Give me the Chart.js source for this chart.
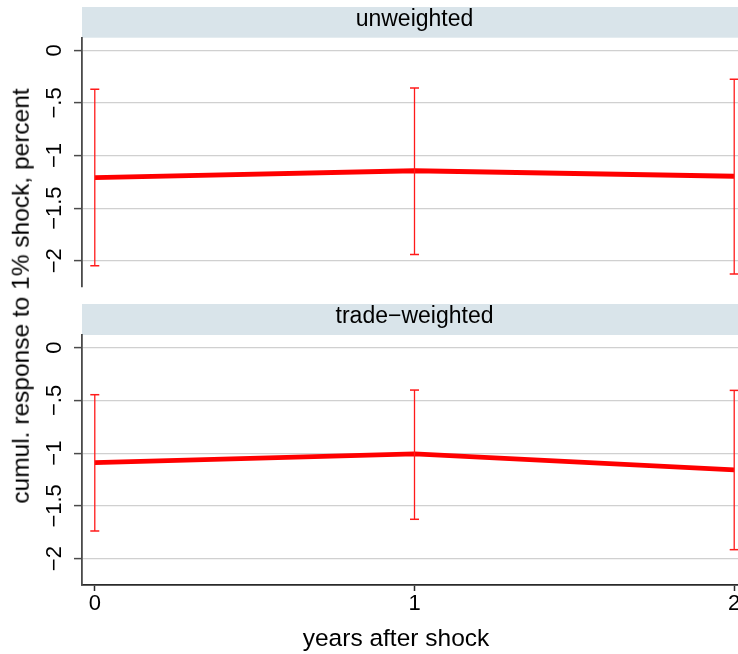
<!DOCTYPE html>
<html>
<head>
<meta charset="utf-8">
<title>cumulative response</title>
<script src="https://cdn.jsdelivr.net/npm/chart.js@4.4.1/dist/chart.umd.min.js"></script>
<style>
  body { margin: 0; background: #fff; }
  #wrap { position: relative; width: 738px; height: 654px; overflow: hidden; font-family: "Liberation Sans", Arial, sans-serif; }
  #wrap canvas { position: absolute; left: 0; }
  #topChart { top: 0; }
  #bottomChart { top: 290px; }
  .axisTitle { position: absolute; font-size: 24.5px; line-height: 1; white-space: nowrap; color: #000; }
  #yTitle { left: 21px; top: 296px; transform: translate(-50%, -50%) rotate(-90deg); }
  #xTitle { left: 396px; top: 626px; transform: translateX(-50%); }
</style>
</head>
<body>
<div id="wrap">
  <canvas id="topChart" width="760" height="310"></canvas>
  <canvas id="bottomChart" width="760" height="364"></canvas>
  <div class="axisTitle" id="yTitle">cumul. response to 1% shock, percent</div>
  <div class="axisTitle" id="xTitle">years after shock</div>
</div>
<script>
const years = [0, 1, 2];
const xTickLabels = ['0', '1', '2'];
const yTicks = [0, -0.5, -1, -1.5, -2];
const yTickLabels = ['0', '\u2212.5', '\u22121', '\u22121.5', '\u22122'];

const panelTitles = ['unweighted', 'trade\u2212weighted'];

// unweighted panel
const unwEstimate = [-1.21, -1.145, -1.197];
const unwUpper = [-0.37, -0.357, -0.275];
const unwLower = [-2.047, -1.94, -2.126];

// trade-weighted panel
const twEstimate = [-1.089, -1.007, -1.159];
const twUpper = [-0.446, -0.402, -0.405];
const twLower = [-1.738, -1.627, -1.915];

const yMin = -2.25, yMax = 0.12;
const xMin = -0.04, xMax = 2.04;

const fontFamily = '"Liberation Sans", Arial, sans-serif';

// light strip behind each panel title
const stripPlugin = {
    id: 'strip',
    beforeDraw(chart, args, opts) {
        const ctx = chart.ctx;
        const area = chart.chartArea;
        ctx.save();
        ctx.fillStyle = opts.color;
        ctx.fillRect(area.left, opts.top, chart.width - area.left, area.top - opts.top);
        ctx.restore();
    }
};

function errorBarPoints(upper, lower) {
    const pts = [];
    for (let i = 0; i < years.length; i++) {
        pts.push({ x: years[i], y: upper[i] });
        pts.push({ x: years[i], y: lower[i] });
        pts.push({ x: years[i], y: null });
    }
    return pts;
}

function makePanel(canvasId, title, estimate, upper, lower, bottomPanel) {
    const xScale = {
        type: 'linear',
        min: xMin,
        max: xMax,
        display: bottomPanel,
        afterBuildTicks: s => { s.ticks = years.map(v => ({ value: v })); },
        afterFit: s => { if (bottomPanel) s.height = 69; },
        border: { color: '#2a2a2a', width: 1.8 },
        grid: { drawOnChartArea: false, tickColor: '#2a2a2a', tickLength: 6, tickWidth: 1.5 },
        ticks: {
            maxRotation: 0,
            padding: 0,
            color: '#000',
            font: { family: fontFamily, size: 22 },
            callback: v => xTickLabels[years.indexOf(v)]
        }
    };

    return new Chart(document.getElementById(canvasId), {
        type: 'line',
        data: {
            datasets: [
                {
                    data: errorBarPoints(upper, lower),
                    borderColor: '#ff1a1a',
                    borderWidth: 1.3,
                    pointStyle: 'line',
                    pointRadius: 4.5,
                    pointBorderWidth: 1.5,
                    pointBorderColor: '#ff1a1a',
                    spanGaps: false,
                    fill: false
                },
                {
                    data: years.map((x, i) => ({ x: x, y: estimate[i] })),
                    borderColor: '#ff0000',
                    borderWidth: 4.8,
                    pointRadius: 0,
                    tension: 0,
                    fill: false
                }
            ]
        },
        options: {
            responsive: false,
            animation: false,
            layout: { padding: { left: 0, right: 13, top: 0, bottom: bottomPanel ? 0 : 23 } },
            scales: {
                x: xScale,
                y: {
                    type: 'linear',
                    min: yMin,
                    max: yMax,
                    afterBuildTicks: s => { s.ticks = yTicks.map(v => ({ value: v })); },
                    afterFit: s => { s.width = 82; },
                    border: { color: '#4a4a4a', width: 1.8 },
                    grid: { color: '#d0d0d0', lineWidth: 1.2, tickColor: '#4a4a4a', tickLength: 8, tickWidth: 1.5 },
                    ticks: {
                        minRotation: 90,
                        maxRotation: 90,
                        crossAlign: 'center',
                        padding: -3,
                        color: '#000',
                        font: { family: fontFamily, size: 22 },
                        callback: v => yTickLabels[yTicks.indexOf(v)]
                    }
                }
            },
            plugins: {
                legend: { display: false },
                tooltip: { enabled: false },
                title: {
                    display: true,
                    text: title,
                    fullSize: false,
                    color: '#000',
                    font: { family: fontFamily, size: 23, weight: 'normal' },
                    padding: bottomPanel ? { top: 12.7, bottom: 4.7 } : { top: 5.6, bottom: 4.5 }
                },
                strip: { color: '#d9e4ea', top: bottomPanel ? 14 : 7 }
            }
        },
        plugins: [stripPlugin]
    });
}

makePanel('topChart', panelTitles[0], unwEstimate, unwUpper, unwLower, false);
makePanel('bottomChart', panelTitles[1], twEstimate, twUpper, twLower, true);
</script>
</body>
</html>
